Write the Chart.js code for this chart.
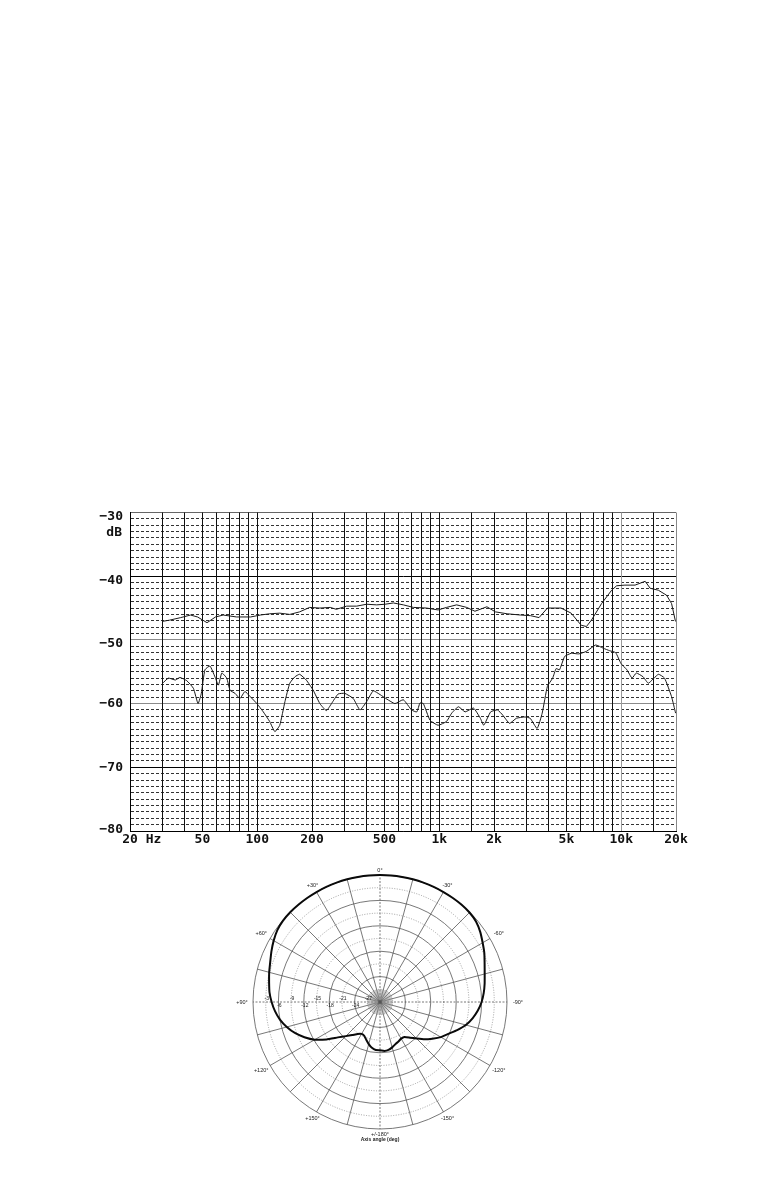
<!DOCTYPE html>
<html>
<head>
<meta charset="utf-8">
<script src="https://cdn.jsdelivr.net/npm/chart.js@4/dist/chart.umd.min.js"></script>
<style>
  html, body { margin: 0; padding: 0; background: #fff; }
  body { width: 771px; height: 1191px; position: relative; overflow: hidden; }
  #freqBox { position: absolute; left: 0; top: 480px; width: 771px; height: 380px; }
  #polarBox { position: absolute; left: 230px; top: 852px; width: 300px; height: 300px; }
</style>
</head>
<body>
<div id="freqBox"><canvas id="freq" width="771" height="380"></canvas></div>
<div id="polarBox"><canvas id="polar" width="300" height="300"></canvas></div>
<script>
// ---------- Frequency response data ----------
const xGridFreqs = [20,30,40,50,60,70,80,90,100,200,300,400,500,600,700,800,900,1000,1500,2000,3000,4000,5000,6000,7000,8000,9000,10000,15000,20000];
const xLabelFreqs = [20,50,100,200,500,1000,2000,5000,10000,20000];
const xLabelTexts = ['20 Hz','50','100','200','500','1k','2k','5k','10k','20k'];
const yLabelValues = [-30,-40,-50,-60,-70,-80];
const yUnit = 'dB';

const upperFreq = [30,33,38,43,47,53,59,65,77,92,104,117,133,151,171,194,221,252,272,310,352,399,453,505,560,635,722,853,986,1097,1246,1416,1571,1828,2035,2362,2802,3181,3536,3935,4671,5307,6030,6439,6860,7800,8860,9440,10480,11910,13540,14430,16000,17770,18910,19870];
const upperDb = [-47.1,-46.9,-46.5,-46.1,-46.4,-47.3,-46.4,-46.1,-46.4,-46.4,-46.1,-45.9,-45.8,-46.0,-45.6,-44.9,-45.0,-44.9,-45.2,-44.7,-44.7,-44.4,-44.5,-44.4,-44.2,-44.5,-44.9,-45.0,-45.3,-44.9,-44.5,-44.9,-45.5,-44.8,-45.6,-45.9,-46.1,-46.2,-46.5,-45.0,-45.0,-45.8,-47.7,-47.9,-46.9,-44.3,-42.2,-41.5,-41.4,-41.4,-40.8,-41.9,-42.2,-43.0,-44.3,-47.1];

const lowerFreq = [30,32.5,35.5,37.6,41,44.6,47.3,49.3,51.6,55,58.6,61.2,63.9,68,70.9,75.6,80.4,85.6,91.5,99.6,108,117,125,133,142,151,161,171,186,203,221,240,256,278,303,337,367,399,434,474,516,571,635,705,753,784,818,890,986,1097,1171,1276,1388,1543,1683,1757,1917,2091,2233,2434,2656,2960,3160,3450,3680,3930,4200,4390,4580,4890,5320,5840,6440,7240,7960,8640,9320,9970,10750,11470,12100,13200,14100,16000,17300,18900,19900];
const lowerDb = [-56.9,-56.0,-56.3,-55.9,-56.4,-57.6,-60.0,-58.4,-54.7,-54.1,-55.8,-57.1,-55.2,-56.0,-57.9,-58.4,-59.2,-58.1,-58.9,-60.0,-61.3,-62.8,-64.4,-63.4,-59.7,-56.8,-55.8,-55.4,-56.3,-57.9,-60.0,-61.1,-60.0,-58.5,-58.4,-59.2,-61.0,-59.7,-58.0,-58.6,-59.3,-60.0,-59.4,-61.0,-61.3,-59.9,-60.0,-62.6,-63.4,-62.8,-61.5,-60.5,-61.3,-60.7,-62.3,-63.4,-61.3,-61.0,-61.8,-63.1,-62.3,-62.1,-62.3,-63.9,-61.5,-57.3,-56.0,-54.5,-54.7,-52.6,-52.1,-52.2,-51.8,-50.8,-51.3,-51.7,-52.0,-53.7,-54.7,-56.0,-55.2,-55.8,-56.8,-55.4,-56.0,-58.9,-61.5];

// ---------- Polar pattern data (every 5°, clockwise from 0°) ----------
const polarAngles = [];
for (let i = 0; i < 72; i++) polarAngles.push(i * 5);
const polarDb = [0,0,0,0,0,0,0,0,0,-0.1,-0.4,-1.1,-2.0,-2.8,-3.7,-4.4,-4.9,-5.4,-6.0,-6.8,-7.8,-9.0,-10.6,-12.2,-13.4,-14.9,-16.3,-17.8,-19.0,-19.9,-20.0,-19.7,-19.4,-18.9,-18.5,-18.4,-18.6,-18.6,-19.0,-19.7,-20.5,-21.2,-21.3,-20.8,-19.8,-18.6,-17.0,-14.6,-12.2,-10.3,-8.6,-7.2,-6.0,-5.1,-4.4,-3.8,-3.4,-2.9,-2.4,-1.7,-1.0,-0.4,-0.1,0,0,0,0,0,0,0,0,0];
const polarAngleLabelIdx = [0,6,12,18,24,30,36,42,48,54,60,66];
const polarAngleLabels = ['0°','-30°','-60°','-90°','-120°','-150°','+/-180°','+150°','+120°','+90°','+60°','+30°'];
const ringLabelValues = [-3,-6,-9,-12,-15,-18,-21,-24,-27];
const polarAxisTitle = 'Axis angle (deg)';

// ---------- Frequency chart ----------
const yGridValues = [];
for (let v = -80; v <= -30; v++) yGridValues.push(v);

const freqLabels = {
  id: 'freqLabels',
  afterDraw(chart) {
    const {ctx, scales: {x, y}} = chart;
    ctx.save();
    ctx.fillStyle = '#111';
    ctx.font = 'bold 13px "DejaVu Sans Mono"';
    ctx.textBaseline = 'middle';
    xLabelFreqs.forEach((f, i) => {
      const px = x.getPixelForValue(f);
      const t = xLabelTexts[i];
      const num = t.split(' ')[0];
      ctx.textAlign = 'left';
      ctx.fillText(t, px - ctx.measureText(num).width / 2, y.bottom + 9);
    });
    ctx.textAlign = 'right';
    yLabelValues.forEach(v => {
      const off = v >= -50 ? 4 : (v === -80 ? -1 : 0);
      ctx.fillText('\u2212' + Math.abs(v), x.left - 7, y.getPixelForValue(v) + off);
    });
    ctx.fillText(yUnit, x.left - 8, y.getPixelForValue(-30) + 20.5);
    ctx.restore();
  }
};

new Chart(document.getElementById('freq'), {
  type: 'line',
  data: {
    datasets: [
      { label: 'upper', data: upperFreq.map((f, i) => ({x: f, y: upperDb[i]})),
        borderColor: '#1a1a1a', borderWidth: 1, pointRadius: 0, tension: 0, fill: false },
      { label: 'lower', data: lowerFreq.map((f, i) => ({x: f, y: lowerDb[i]})),
        borderColor: '#1a1a1a', borderWidth: 1, pointRadius: 0, tension: 0.15, fill: false }
    ]
  },
  options: {
    responsive: false,
    animation: false,
    devicePixelRatio: 1,
    layout: { padding: { left: 130, right: 95, top: 32.5, bottom: 29 } },
    plugins: { legend: { display: false }, tooltip: { enabled: false } },
    scales: {
      x: {
        type: 'logarithmic', min: 20, max: 20000,
        afterBuildTicks: s => { s.ticks = xGridFreqs.map(v => ({value: v})); },
        ticks: { display: false },
        grid: {
          z: -1, drawTicks: false, lineWidth: 1,
          color: c => {
            const v = c.tick ? c.tick.value : 0;
            if (v === 10000) return '#9a9a9a';
            if (v === 20000) return '#888';
            return '#111';
          }
        },
        border: { display: true, color: '#000', width: 1 }
      },
      y: {
        type: 'linear', min: -80, max: -30,
        afterBuildTicks: s => { s.ticks = yGridValues.map(v => ({value: v})); },
        ticks: { display: false },
        grid: {
          z: -2, drawTicks: false, lineWidth: 1,
          color: c => {
            const v = c.tick ? c.tick.value : 0;
            if (v === -40 || v === -70) return '#000';
            if (v === -50 || v === -60) return '#8a8a8a';
            if (v === -30) return '#666';
            return '#333';
          }
        },
        border: {
          display: true, color: '#000', width: 1,
          dash: c => {
            if (!c.tick) return [];
            const v = c.tick.value;
            return (v % 10 === 0) ? [] : [3, 2];
          }
        }
      }
    }
  },
  plugins: [freqLabels]
});

// ---------- Polar chart ----------
const polarDecor = {
  id: 'polarDecor',
  afterDraw(chart) {
    const s = chart.scales.r;
    const ctx = chart.ctx;
    ctx.save();
    // dense starburst near the centre
    ctx.strokeStyle = '#888';
    ctx.lineWidth = 0.5;
    for (let i = 0; i < polarAngles.length; i++) {
      const a = s.getPointPositionForValue(i, -29.1);
      const b = s.getPointPositionForValue(i, -27);
      ctx.beginPath(); ctx.moveTo(a.x, a.y); ctx.lineTo(b.x, b.y); ctx.stroke();
    }
    const rIn = s.getDistanceFromCenterForValue(-29.1);
    ctx.beginPath(); ctx.arc(s.xCenter, s.yCenter, rIn, 0, Math.PI * 2); ctx.stroke();
    // angle labels
    ctx.fillStyle = '#222';
    ctx.font = '5.5px "Liberation Sans"';
    ctx.textAlign = 'center';
    ctx.textBaseline = 'middle';
    polarAngleLabelIdx.forEach((idx, k) => {
      const ang = polarAngles[idx] * Math.PI / 180;
      const d = s.drawingArea + 5 + 6 * Math.abs(Math.sin(ang));
      const p = s.getPointPosition(idx, d);
      ctx.fillText(polarAngleLabels[k], p.x, p.y);
    });
    // ring labels along the +90° axis
    ctx.font = '5px "Liberation Sans"';
    ringLabelValues.forEach((v, k) => {
      const p = s.getPointPositionForValue(54, v);
      const dy = (k % 2 === 0) ? -3.5 : 3.5;
      ctx.fillText(String(v), p.x + 1, p.y + dy);
    });
    // axis title
    ctx.font = 'bold 5px "Liberation Sans"';
    ctx.fillText(polarAxisTitle, s.xCenter, s.yCenter + s.drawingArea + 10.5);
    ctx.restore();
  }
};

new Chart(document.getElementById('polar'), {
  type: 'radar',
  data: {
    labels: polarAngles.map(a => a + '°'),
    datasets: [{
      data: polarDb,
      borderColor: '#0a0a0a', borderWidth: 2, pointRadius: 0, tension: 0.12, fill: false
    }]
  },
  options: {
    responsive: false,
    animation: false,
    devicePixelRatio: 1,
    layout: { padding: 23 },
    plugins: { legend: { display: false }, tooltip: { enabled: false } },
    scales: {
      r: {
        min: -30, max: 0,
        ticks: { display: false, stepSize: 3 },
        pointLabels: { display: false },
        grid: {
          circular: true, lineWidth: 0.8,
          color: c => (c.tick && c.tick.value % 6 !== 0) ? '#8a8a8a' : '#555'
        },
        border: {
          dash: c => (c.tick && c.tick.value % 6 !== 0) ? [1, 1.5] : []
        },
        angleLines: {
          display: true, color: '#555',
          lineWidth: c => (c.index % 3 === 0) ? 0.8 : 0,
          borderDash: c => (c.index % 18 === 0) ? [2, 1.5] : []
        }
      }
    }
  },
  plugins: [polarDecor]
});
</script>
</body>
</html>
